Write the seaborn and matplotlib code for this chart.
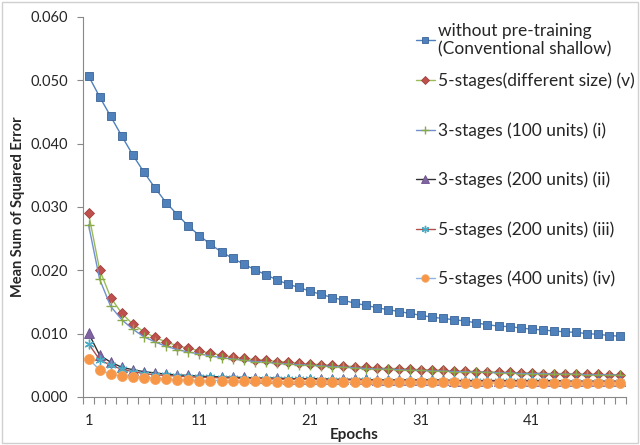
import numpy as np
import pandas as pd
import matplotlib
matplotlib.use("Agg")
import matplotlib.pyplot as plt
from matplotlib.patches import Rectangle
import seaborn as sns

# epochs 1..49
epochs = list(range(1, 50))

no_pretrain = [0.0507, 0.0474, 0.0443, 0.0412, 0.0382, 0.0355, 0.0330, 0.0307, 0.0288, 0.0270,
               0.0255, 0.0241, 0.0229, 0.0219, 0.0210, 0.0201, 0.0193, 0.0185, 0.0178, 0.0173,
               0.0167, 0.0162, 0.0157, 0.0153, 0.0148, 0.0145, 0.0141, 0.0138, 0.0135, 0.0132,
               0.0129, 0.0126, 0.0124, 0.0122, 0.0120, 0.0117, 0.0114, 0.0112, 0.0111, 0.0109,
               0.0107, 0.0106, 0.0104, 0.0103, 0.0102, 0.0100, 0.0099, 0.0097, 0.0096]

five_diff = [0.0290, 0.0201, 0.0157, 0.0132, 0.0115, 0.0103, 0.0094, 0.0087, 0.0081, 0.0077,
             0.0073, 0.0069, 0.0066, 0.0063, 0.0061, 0.0059, 0.0058, 0.0056, 0.0055, 0.0053,
             0.0052, 0.0051, 0.0050, 0.0049, 0.0048, 0.0047, 0.0046, 0.0045, 0.0045, 0.0044,
             0.0043, 0.0043, 0.0042, 0.0041, 0.0041, 0.0040, 0.0040, 0.0039, 0.0039, 0.0038,
             0.0038, 0.0037, 0.0037, 0.0037, 0.0036, 0.0036, 0.0036, 0.0035, 0.0035]

three_100 = [0.0272, 0.0186, 0.0143, 0.0122, 0.0107, 0.0095, 0.0087, 0.0080, 0.0075, 0.0071,
             0.0068, 0.0065, 0.0062, 0.0060, 0.0058, 0.0056, 0.0055, 0.0053, 0.0052, 0.0051,
             0.0050, 0.0049, 0.0048, 0.0047, 0.0046, 0.0045, 0.0044, 0.0044, 0.0043, 0.0042,
             0.0042, 0.0041, 0.0041, 0.0040, 0.0040, 0.0039, 0.0039, 0.0038, 0.0038, 0.0037,
             0.0037, 0.0037, 0.0036, 0.0036, 0.0036, 0.0035, 0.0035, 0.0035, 0.0034]

three_200 = [0.0101, 0.0066, 0.0055, 0.0047, 0.0043, 0.0040, 0.0038, 0.0036, 0.0035, 0.0034,
             0.0033, 0.0032, 0.0032, 0.0031, 0.0031, 0.0030, 0.0030, 0.0030, 0.0029, 0.0029,
             0.0029, 0.0029, 0.0028, 0.0028, 0.0028, 0.0028, 0.0027, 0.0027, 0.0027, 0.0027,
             0.0027, 0.0027, 0.0027, 0.0026, 0.0026, 0.0026, 0.0026, 0.0026, 0.0026, 0.0026,
             0.0026, 0.0026, 0.0026, 0.0025, 0.0025, 0.0025, 0.0025, 0.0025, 0.0025]

five_200 = [0.0084, 0.0059, 0.0050, 0.0044, 0.0040, 0.0037, 0.0035, 0.0034, 0.0033, 0.0032,
            0.0031, 0.0031, 0.0030, 0.0030, 0.0029, 0.0029, 0.0029, 0.0028, 0.0028, 0.0028,
            0.0028, 0.0027, 0.0027, 0.0027, 0.0027, 0.0027, 0.0026, 0.0026, 0.0026, 0.0026,
            0.0026, 0.0026, 0.0026, 0.0025, 0.0025, 0.0025, 0.0025, 0.0025, 0.0025, 0.0025,
            0.0025, 0.0025, 0.0024, 0.0024, 0.0024, 0.0024, 0.0024, 0.0024, 0.0024]

five_400 = [0.0060, 0.0043, 0.0036, 0.0033, 0.0031, 0.0030, 0.0029, 0.0028, 0.0027, 0.0027,
            0.0026, 0.0026, 0.0026, 0.0025, 0.0025, 0.0025, 0.0025, 0.0024, 0.0024, 0.0024,
            0.0024, 0.0024, 0.0024, 0.0023, 0.0023, 0.0023, 0.0023, 0.0023, 0.0023, 0.0023,
            0.0023, 0.0023, 0.0023, 0.0023, 0.0022, 0.0022, 0.0022, 0.0022, 0.0022, 0.0022,
            0.0022, 0.0022, 0.0022, 0.0022, 0.0022, 0.0022, 0.0022, 0.0022, 0.0022]

labels = ["without pre-training\n(Conventional shallow)",
          "5-stages(different size) (v)",
          "3-stages (100 units) (i)",
          "3-stages (200 units) (ii)",
          "5-stages (200 units) (iii)",
          "5-stages (400 units) (iv)"]

x_ticks = [1, 11, 21, 31, 41]
y_ticks = [0.0, 0.01, 0.02, 0.03, 0.04, 0.05, 0.06]

sns.set_style("white")
plt.rcParams['font.family'] = ['Lato', 'DejaVu Sans']

# (values, line colour, marker, face, edge, size)
styles = [
    (no_pretrain, "#4F81BD", "s", "#4F81BD", "#3A6396", 6),
    (five_diff, "#9BBB59", "D", "#C0504D", "#A0403D", 5.2),
    (three_100, "#6F8FD0", "+", "#9BBB59", "#8AAA48", 7),
    (three_200, "#303030", "^", "#8064A2", "#6A4F8C", 7),
    (five_200, "#B0504D", (6, 2, 0), "#4BACC6", "#4BACC6", 7),
    (five_400, "#8DB4E2", "o", "#F79646", "#F5A560", 7.2),
]

fig = plt.figure(figsize=(6.4, 4.45), dpi=100)
ax = fig.add_axes([83 / 640, 1 - 397 / 445, 543 / 640, 380 / 445])

for (vals, lc, mk, fc, ec, ms), lab in zip(styles, labels):
    sns.lineplot(x=epochs, y=vals, ax=ax, color=lc, linewidth=1.0,
                 marker=mk, markersize=ms, markerfacecolor=fc,
                 markeredgecolor=ec, markeredgewidth=1.0 if mk in ("+", (6, 2, 0)) else 0.6,
                 label=lab)

ax.set_xlim(0.5, 49.5)
ax.set_ylim(0, 0.06)
ax.set_xticks(x_ticks)
ax.set_xticks(np.arange(0.5, 50, 1), minor=True)
ax.set_yticks(y_ticks)
ax.set_yticklabels([f"{v:.3f}" for v in y_ticks])
ax.tick_params(axis="x", which="major", length=0, pad=12, labelsize=10.5)
ax.tick_params(axis="x", which="minor", length=5, width=0.8, color="#888888", direction="out", bottom=True)
ax.tick_params(axis="y", which="major", length=4, width=0.8, color="#888888", direction="out", left=True, pad=7, labelsize=10.5)

for side in ["top", "right"]:
    ax.spines[side].set_visible(False)
for side in ["left", "bottom"]:
    ax.spines[side].set_color("#888888")
    ax.spines[side].set_linewidth(0.8)

ax.set_xlabel("Epochs", fontweight="bold", fontsize=11, labelpad=0)
ax.set_ylabel("Mean Sum of Squared Error", fontweight="bold", fontsize=10.5, labelpad=4)

handles, labs = ax.get_legend_handles_labels()
leg_kw = dict(frameon=False, fontsize=12.5, handlelength=1.1, handletextpad=0.15,
              borderpad=0, borderaxespad=0, markerscale=0.75)
leg1 = ax.legend(handles[:1], labs[:1], loc="center left",
                 bbox_to_anchor=(0.613, (397 - 40) / 380), labelspacing=0.2, **leg_kw)
ax.add_artist(leg1)
ax.legend(handles[1:], labs[1:], loc="center left",
          bbox_to_anchor=(0.613, (397 - 180) / 380), labelspacing=1.9, **leg_kw)

fig.patches.append(Rectangle((0.003, 0.005), 0.994, 0.99, transform=fig.transFigure,
                             fill=False, edgecolor="#D0D0D0", linewidth=1.0))

fig.savefig("out.png", dpi=100)
